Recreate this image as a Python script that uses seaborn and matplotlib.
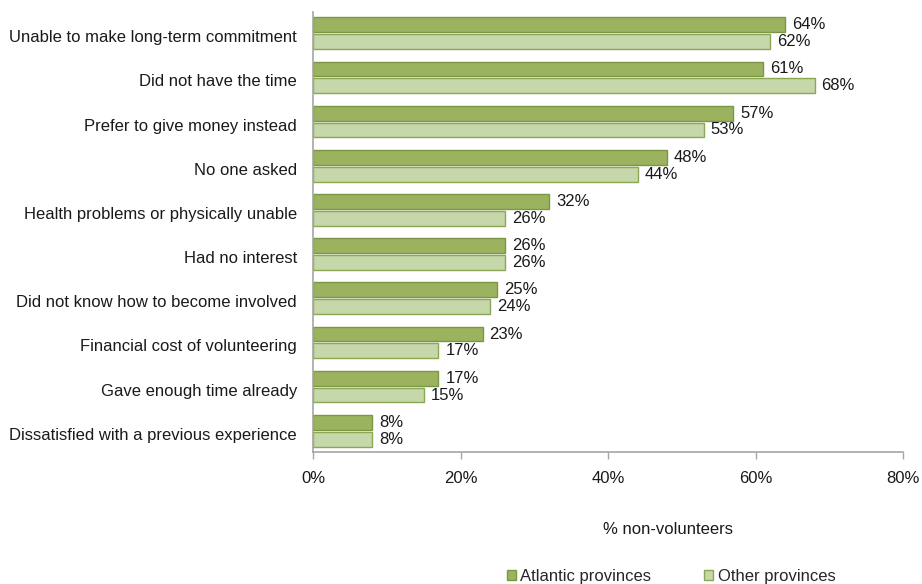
import matplotlib
matplotlib.use("Agg")
import matplotlib.pyplot as plt
import matplotlib.transforms as mtransforms
import seaborn as sns
import pandas as pd
from matplotlib.patches import Patch

categories = [
    "Unable to make long-term commitment",
    "Did not have the time",
    "Prefer to give money instead",
    "No one asked",
    "Health problems or physically unable",
    "Had no interest",
    "Did not know how to become involved",
    "Financial cost of volunteering",
    "Gave enough time already",
    "Dissatisfied with a previous experience",
]
atlantic = [64, 61, 57, 48, 32, 26, 25, 23, 17, 8]
other = [62, 68, 53, 44, 26, 26, 24, 17, 15, 8]
series = ["Atlantic provinces", "Other provinces"]
xticks = [0, 20, 40, 60, 80]

df = pd.DataFrame({
    "reason": categories * 2,
    "value": atlantic + other,
    "group": [series[0]] * len(categories) + [series[1]] * len(categories),
})

fills = {series[0]: "#9BB25F", series[1]: "#C6D7A9"}
edges = {series[0]: "#7D9645", series[1]: "#8BA654"}

sns.set_theme(style="white")
plt.rcParams["font.family"] = ["Liberation Sans", "DejaVu Sans"]
FS = 12

fig = plt.figure(figsize=(9.22, 5.84), dpi=100)
ax = fig.add_axes([313 / 922, 1 - 452 / 584, 590 / 922, 440 / 584])

sns.barplot(data=df, y="reason", x="value", hue="group", order=categories,
            hue_order=series, palette=fills, saturation=1, orient="h",
            width=0.76, gap=0.12, legend=False, ax=ax)

for container, name in zip(ax.containers, series):
    for bar in container:
        bar.set_edgecolor(edges[name])
        bar.set_linewidth(1.0)
    ax.bar_label(container, labels=[f"{int(v)}%" for v in container.datavalues],
                 padding=5, fontsize=FS, color="#1a1a1a")

ax.set_xlim(0, 80)
ax.set_ylim(len(categories) - 0.52, -0.48)
ax.set_xticks(xticks)
ax.set_xticklabels([f"{t}%" for t in xticks], fontsize=FS, color="#1a1a1a")
ax.tick_params(axis="x", which="both", bottom=True, length=5, width=1,
               color="#A6A6A6", pad=9)
ax.tick_params(axis="y", left=False, labelsize=FS, labelcolor="#1a1a1a", pad=5.5)
ax.set_xlabel("")
ax.set_ylabel("")

# nudge category labels slightly downward
shift = mtransforms.ScaledTranslation(0, -3 / 100, fig.dpi_scale_trans)
for lbl in ax.get_yticklabels():
    lbl.set_transform(lbl.get_transform() + shift)

for side in ["top", "right"]:
    ax.spines[side].set_visible(False)
for side in ["left", "bottom"]:
    ax.spines[side].set_color("#A6A6A6")
    ax.spines[side].set_linewidth(1.2)

fig.text(668 / 922, 1 - 530 / 584, "% non-volunteers", ha="center", va="center",
         fontsize=FS, color="#1a1a1a")

handles = [Patch(facecolor=fills[s], edgecolor=edges[s], label=s) for s in series]
fig.legend(handles=handles, loc="center", bbox_to_anchor=(671 / 922, 1 - 576 / 584),
           ncol=2, frameon=False, fontsize=FS, handlelength=0.55, handleheight=0.55,
           handletextpad=0.25, columnspacing=3.2)

fig.savefig("out.png", dpi=100)
